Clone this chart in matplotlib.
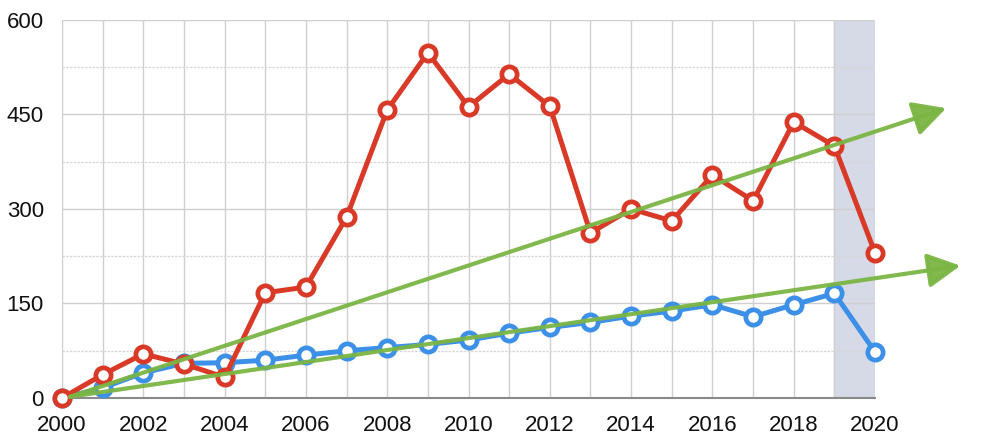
import matplotlib.pyplot as plt
from matplotlib.ticker import MultipleLocator

plt.rcParams['font.family'] = ['Liberation Sans', 'DejaVu Sans']

years = list(range(2000, 2021))
red_values = [0, 37, 70, 54, 33, 167, 176, 287, 457, 548, 462, 514, 463,
              262, 300, 281, 354, 313, 438, 400, 230]
blue_values = [0, 16, 40, 55, 56, 60, 68, 75, 80, 85, 92, 103, 112,
               120, 130, 138, 148, 129, 148, 166, 73]

# trend arrows: (start year, start value) -> (end year, end value)
trend_upper = [(2000.2, 2), (2021.75, 460)]
trend_lower = [(2000.2, 2), (2022.1, 210)]
shade_years = (2019, 2020)

red = '#d93a27'
blue = '#3c90e8'
green = '#7bb544'

fig = plt.figure(figsize=(9.82, 4.47), dpi=100)
ax = fig.add_axes([0.0631, 0.1096, 0.8280, 0.8458])

ax.axvspan(shade_years[0], shade_years[1], color='#d6dae6', zorder=0)

ax.plot(years, red_values, color=red, lw=3.6, marker='o', ms=11,
        mfc='white', mec=red, mew=3.4, zorder=4, clip_on=False)
ax.plot(years, blue_values, color=blue, lw=3.6, marker='o', ms=11,
        mfc='white', mec=blue, mew=3.4, zorder=3, clip_on=False)

# green trend arrows, drawn past the right edge of the axes
for (x0, y0), (x1, y1) in [trend_upper, trend_lower]:
    ax.annotate('', xy=(x1, y1), xytext=(x0, y0), annotation_clip=False,
                arrowprops=dict(arrowstyle='-|>,head_length=2.0,head_width=1.05',
                                color=green, lw=3.0, alpha=0.95,
                                shrinkA=0, shrinkB=0),
                zorder=5)

ax.set_xlim(2000, 2020)
ax.set_ylim(0, 600)
ax.xaxis.set_major_locator(MultipleLocator(2))
ax.xaxis.set_minor_locator(MultipleLocator(1))
ax.yaxis.set_major_locator(MultipleLocator(150))
ax.yaxis.set_minor_locator(MultipleLocator(75))

ax.grid(which='major', color='#cfcfcf', lw=1.0)
ax.grid(which='minor', axis='x', color='#cfcfcf', lw=1.0)
ax.grid(which='minor', axis='y', color='#d6d6d6', lw=0.9, ls=(0, (2, 1)))
ax.set_axisbelow(True)

for s in ['left', 'right', 'top']:
    ax.spines[s].set_visible(False)
ax.spines['bottom'].set_color('#8a8a8a')
ax.spines['bottom'].set_linewidth(1.5)

ax.tick_params(which='both', length=0, labelsize=16, colors='#111111')
ax.tick_params(axis='x', pad=12)
ax.tick_params(axis='y', pad=13)

plt.savefig('out.png', dpi=100)
